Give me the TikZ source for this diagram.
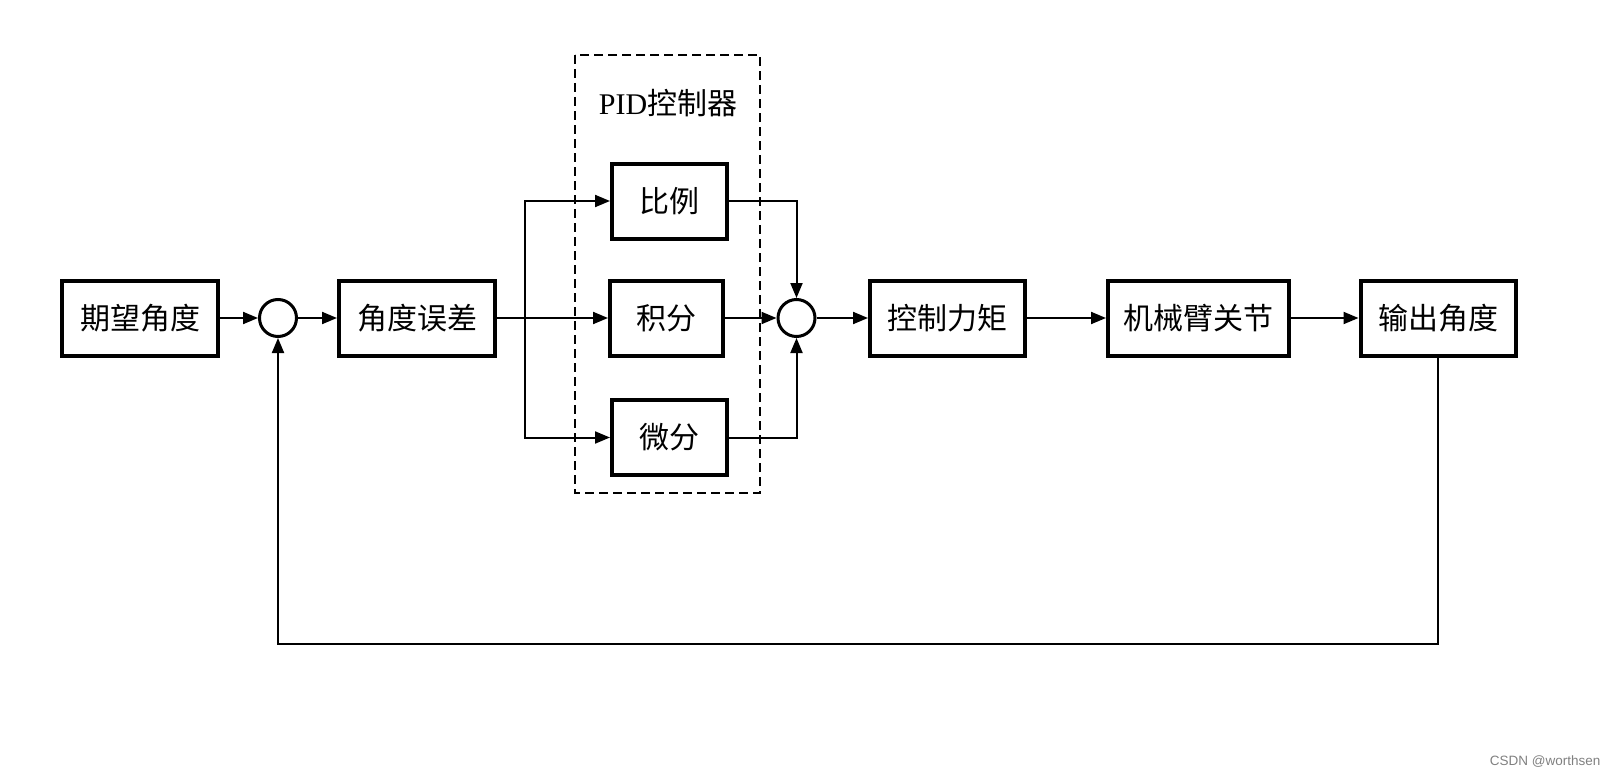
\documentclass[tikz,border=0pt]{standalone}
\usepackage{fontspec}
\setmainfont{Liberation Serif}
\newfontfamily\cjk{Noto Sans CJK SC}
\newfontfamily\wmfont{Liberation Sans}
\usepackage{tikz}
\usetikzlibrary{arrows.meta,positioning,calc}

\begin{document}
\begin{tikzpicture}[x=1pt,y=-1pt,
    box/.style={draw,line width=4pt,inner sep=0pt,minimum height=75pt,
      font=\cjk\fontsize{30}{36}\selectfont},
    sumnode/.style={draw,circle,line width=3pt,minimum size=37pt,inner sep=0pt},
    flow/.style={line width=2pt,-{Triangle[length=15pt,width=12pt]}},
    link/.style={line width=2pt}]
  \useasboundingbox (0,0) rectangle (1618,776);
  % blocchi della catena principale
  \node[box,minimum width=156pt] (want) at (140,318) {期望角度};
  \node[sumnode] (sum1) at (278,318) {};
  \node[box,minimum width=156pt] (err) at (417,318) {角度误差};
  \node[box,minimum width=115pt] (P) at (669.5,201) {比例};
  \node[box,minimum width=113pt] (I) at (666.5,318) {积分};
  \node[box,minimum width=115pt] (D) at (669.5,437.5) {微分};
  \node[sumnode] (sum2) at (796.5,318) {};
  \node[box,minimum width=155pt] (torque) at (947.5,318) {控制力矩};
  \node[box,minimum width=181pt] (joint) at (1198.5,318) {机械臂关节};
  \node[box,minimum width=155pt] (out) at (1438,318) {输出角度};
  % cornice PID tratteggiata
  \draw[line width=1.5pt,dash pattern=on 9pt off 5pt] (575,55) rectangle (760,493);
  \node[font=\fontsize{30}{36}\selectfont] (pidlabel) at (668,103) {PID{\cjk 控制器}};
  % collegamenti
  \draw[flow] (want) -- (sum1);
  \draw[flow] (sum1) -- (err);
  \coordinate (branch) at (525,318);
  \draw[flow] (err) -- (I);
  \draw[flow] (branch) |- (P);
  \draw[flow] (branch) |- (D);
  \draw[flow] (P) -| (sum2);
  \draw[flow] (I) -- (sum2);
  \draw[flow] (D) -| (sum2);
  \draw[flow] (sum2) -- (torque);
  \draw[flow] (torque) -- (joint);
  \draw[flow] (joint) -- (out);
  % retroazione
  \coordinate (fbcorner) at (1438,644);
  \draw[flow] (out) -- (fbcorner) -| (sum1);
  \node[anchor=east,text=gray,font=\wmfont\fontsize{13.5}{15}\selectfont] (mark) at (1604,762) {CSDN @worthsen};
\end{tikzpicture}
\end{document}
